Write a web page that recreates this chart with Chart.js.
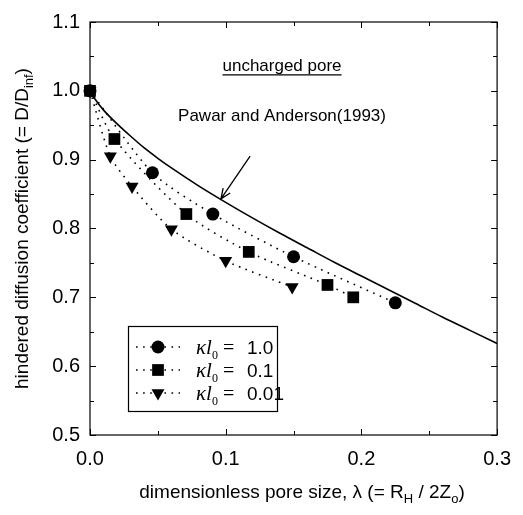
<!DOCTYPE html>
<html>
<head>
<meta charset="utf-8">
<script src="https://cdn.jsdelivr.net/npm/chart.js@4.4.0/dist/chart.umd.min.js"></script>
<style>
  body { margin: 0; background: #fff; }
  canvas { display: block; }
</style>
</head>
<body>
<canvas id="chart" width="523" height="515"></canvas>
<script>
// data (lambda = R_H / 2Z_o, D/D_inf)
const lambdaK1 = [0, 0.046, 0.0905, 0.150, 0.225];
const diffK1 = [1.0, 0.881, 0.821, 0.759, 0.692];

const lambdaK01 = [0, 0.018, 0.071, 0.117, 0.175, 0.194];
const diffK01 = [1.0, 0.930, 0.821, 0.766, 0.718, 0.700];

const lambdaK001 = [0, 0.015, 0.031, 0.060, 0.100, 0.149];
const diffK001 = [1.0, 0.905, 0.861, 0.799, 0.753, 0.715];

// Pawar and Anderson (1993) curve
const lambdaPA = [0, 0.003, 0.01, 0.02, 0.03, 0.04, 0.05, 0.06, 0.08, 0.10, 0.12, 0.14, 0.16, 0.18, 0.20, 0.22, 0.24, 0.26, 0.28, 0.30];
const diffPA = [1.0, 0.990, 0.972, 0.952, 0.934, 0.917, 0.902, 0.888, 0.862, 0.838, 0.815, 0.793, 0.772, 0.751, 0.731, 0.711, 0.691, 0.671, 0.652, 0.633];

const seriesNames = ['1.0', '0.1', '0.01'];
const xTickValues = [0, 0.1, 0.2, 0.3];
const yTickValues = [0.5, 0.6, 0.7, 0.8, 0.9, 1.0, 1.1];

const toPoints = (xs, ys) => xs.map((x, i) => ({ x: x, y: ys[i] }));

const dotted = {
    borderColor: '#000',
    backgroundColor: '#000',
    borderWidth: 1.6,
    borderDash: [1.6, 5.5],
    tension: 0.25,
    clip: false,
    pointBorderWidth: 0
};

const datasets = [
    Object.assign({ label: seriesNames[0], data: toPoints(lambdaK1, diffK1), pointStyle: 'circle', pointRadius: 6.5 }, dotted),
    Object.assign({ label: seriesNames[1], data: toPoints(lambdaK01, diffK01), pointStyle: 'rect', pointRadius: 8.3 }, dotted),
    Object.assign({ label: seriesNames[2], data: toPoints(lambdaK001, diffK001), pointStyle: 'triangle', pointRadius: 7.5, pointRotation: 180 }, dotted),
    {
        label: 'Pawar and Anderson(1993)',
        data: toPoints(lambdaPA, diffPA),
        borderColor: '#000',
        borderWidth: 1.6,
        pointRadius: 0,
        cubicInterpolationMode: 'monotone'
    }
];

// draw a run of text pieces, some of them subscripts
function drawParts(ctx, parts, x, y, align) {
    let total = 0;
    parts.forEach(p => { ctx.font = p.font; total += ctx.measureText(p.t).width; });
    let cx = align === 'center' ? x - total / 2 : x;
    ctx.textAlign = 'left';
    ctx.textBaseline = 'alphabetic';
    parts.forEach(p => {
        ctx.font = p.font;
        ctx.fillText(p.t, cx, y + (p.dy || 0));
        cx += ctx.measureText(p.t).width;
    });
}

const sans = '"Liberation Sans", Arial, sans-serif';
const serif = '"Liberation Serif", "Times New Roman", serif';

const framePlugin = {
    id: 'frame',
    beforeDatasetsDraw(chart) {
        const ctx = chart.ctx;
        const a = chart.chartArea;
        const xs = chart.scales.x;
        const ys = chart.scales.y;
        ctx.save();
        ctx.strokeStyle = '#000';
        ctx.lineWidth = 1.2;
        ctx.strokeRect(a.left, a.top, a.right - a.left, a.bottom - a.top);
        ctx.lineWidth = 1;
        ctx.beginPath();
        for (let v = 0; v <= 0.3001; v += 0.05) {
            const px = Math.round(xs.getPixelForValue(v)) + 0.5;
            const len = Math.abs(v * 10 - Math.round(v * 10)) < 0.01 ? 6 : 4;
            ctx.moveTo(px, a.bottom); ctx.lineTo(px, a.bottom - len);
            ctx.moveTo(px, a.top); ctx.lineTo(px, a.top + len);
        }
        for (let v = 0.5; v <= 1.1001; v += 0.05) {
            const py = Math.round(ys.getPixelForValue(v)) + 0.5;
            const len = Math.abs(v * 10 - Math.round(v * 10)) < 0.01 ? 6 : 4;
            ctx.moveTo(a.left, py); ctx.lineTo(a.left + len, py);
            ctx.moveTo(a.right, py); ctx.lineTo(a.right - len, py);
        }
        ctx.stroke();
        ctx.restore();
    },
    afterDraw(chart) {
        const ctx = chart.ctx;
        const a = chart.chartArea;
        const xs = chart.scales.x;
        const ys = chart.scales.y;
        ctx.save();
        ctx.fillStyle = '#000';
        ctx.strokeStyle = '#000';

        // axis titles
        const tf = '19px ' + sans;
        const sf = '13px ' + sans;
        drawParts(ctx, [
            { t: 'dimensionless pore size, λ (= R', font: tf },
            { t: 'H', font: sf, dy: 5 },
            { t: ' / 2Z', font: tf },
            { t: 'o', font: sf, dy: 5 },
            { t: ')', font: tf }
        ], 302, 498, 'center');

        ctx.save();
        ctx.translate(28, (a.top + a.bottom) / 2);
        ctx.rotate(-Math.PI / 2);
        drawParts(ctx, [
            { t: 'hindered diffusion coefficient (= D/D', font: tf },
            { t: 'inf', font: sf, dy: 5 },
            { t: ')', font: tf }
        ], 0, 0, 'center');
        ctx.restore();

        // annotations
        ctx.font = '17px ' + sans;
        ctx.textAlign = 'center';
        ctx.textBaseline = 'alphabetic';
        const ux = xs.getPixelForValue(0.1415);
        const uy = ys.getPixelForValue(1.037) + 6;
        ctx.fillText('uncharged pore', ux, uy);
        const uw = ctx.measureText('uncharged pore').width;
        ctx.lineWidth = 1.2;
        ctx.beginPath();
        ctx.moveTo(ux - uw / 2, uy + 3.5);
        ctx.lineTo(ux + uw / 2, uy + 3.5);
        ctx.stroke();

        ctx.fillText('Pawar and Anderson(1993)', xs.getPixelForValue(0.1415), ys.getPixelForValue(0.965) + 6);

        // arrow to the curve
        const x0 = xs.getPixelForValue(0.118), y0 = ys.getPixelForValue(0.905);
        const x1 = xs.getPixelForValue(0.0965), y1 = ys.getPixelForValue(0.843);
        ctx.lineWidth = 1.3;
        ctx.beginPath();
        ctx.moveTo(x0, y0);
        ctx.lineTo(x1, y1);
        const ang = Math.atan2(y1 - y0, x1 - x0);
        ctx.moveTo(x1 - 11 * Math.cos(ang - 0.4), y1 - 11 * Math.sin(ang - 0.4));
        ctx.lineTo(x1, y1);
        ctx.lineTo(x1 - 11 * Math.cos(ang + 0.4), y1 - 11 * Math.sin(ang + 0.4));
        ctx.stroke();

        // legend box
        const bx = 128, by = 326, bw = 149, bh = 85;
        ctx.fillStyle = '#fff';
        ctx.fillRect(bx, by, bw, bh);
        ctx.lineWidth = 1.2;
        ctx.strokeRect(bx + 0.5, by + 0.5, bw, bh);
        ctx.fillStyle = '#000';
        for (let i = 0; i < 3; i++) {
            const ds = chart.data.datasets[i];
            const ly = by + 21 + i * 23;
            ctx.save();
            ctx.lineWidth = ds.borderWidth;
            ctx.setLineDash(ds.borderDash);
            ctx.beginPath();
            ctx.moveTo(bx + 8, ly);
            ctx.lineTo(bx + 52, ly);
            ctx.stroke();
            ctx.restore();
            Chart.helpers.drawPoint(ctx, {
                pointStyle: ds.pointStyle,
                radius: ds.pointRadius,
                rotation: ds.pointRotation || 0,
                borderWidth: 0
            }, bx + 30, ly);
            drawParts(ctx, [
                { t: 'κ', font: 'italic 21px ' + serif },
                { t: 'l', font: 'italic 21px ' + serif },
                { t: '0', font: '12px ' + serif, dy: 5 },
                { t: ' =', font: '20px ' + serif }
            ], bx + 68, ly + 7, 'left');
            ctx.font = '19px ' + sans;
            ctx.textAlign = 'left';
            ctx.fillText(seriesNames[i], bx + 119, ly + 7);
        }
        ctx.restore();
    }
};

new Chart(document.getElementById('chart'), {
    type: 'line',
    data: { datasets: datasets },
    options: {
        responsive: false,
        animation: false,
        layout: { padding: { top: 16, right: 22, left: 0, bottom: 0 } },
        plugins: { legend: { display: false }, tooltip: { enabled: false } },
        scales: {
            x: {
                type: 'linear',
                min: 0,
                max: 0.3,
                afterBuildTicks: s => { s.ticks = xTickValues.map(v => ({ value: v })); },
                afterFit: s => { s.height = 80; },
                ticks: {
                    color: '#000',
                    font: { size: 20, family: sans },
                    padding: 12,
                    maxRotation: 0,
                    callback: v => v.toFixed(1)
                },
                grid: { display: false, drawTicks: false },
                border: { display: false }
            },
            y: {
                min: 0.5,
                max: 1.1,
                afterBuildTicks: s => { s.ticks = yTickValues.map(v => ({ value: v })); },
                afterFit: s => { s.width = 90; },
                ticks: {
                    color: '#000',
                    font: { size: 20, family: sans },
                    padding: 10,
                    callback: v => v.toFixed(1)
                },
                grid: { display: false, drawTicks: false },
                border: { display: false }
            }
        }
    },
    plugins: [framePlugin]
});
</script>
</body>
</html>
